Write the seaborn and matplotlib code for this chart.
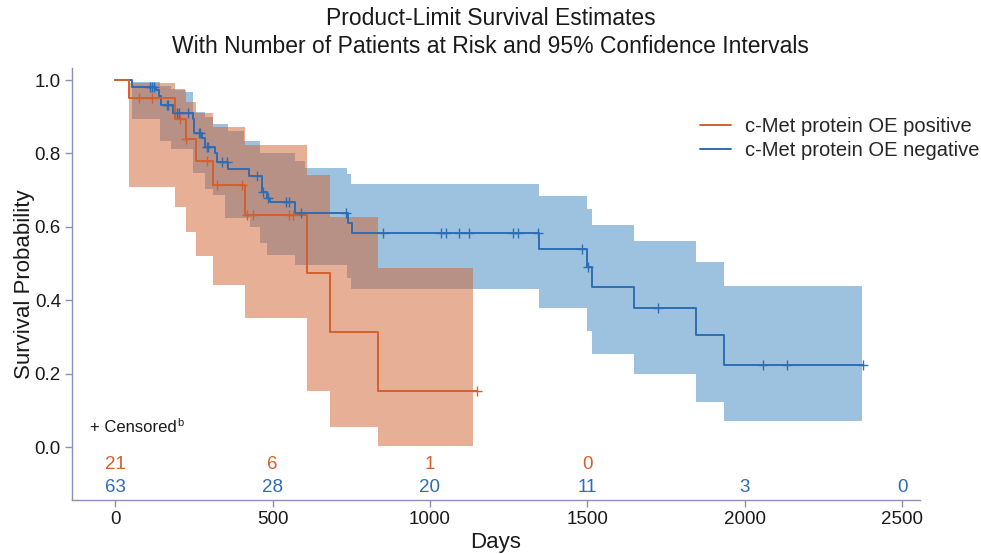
import numpy as np
import pandas as pd
import matplotlib
matplotlib.use("Agg")
import matplotlib.pyplot as plt
import seaborn as sns
from matplotlib.lines import Line2D

# ---------------- data ----------------
pos_label = "c-Met protein OE positive"
neg_label = "c-Met protein OE negative"

pos_event_days = [44, 191, 225, 256, 310, 413, 609, 683, 835]
pos_surv = [0.951, 0.895, 0.839, 0.779, 0.715, 0.631, 0.474, 0.314, 0.154]
pos_censor_days = [76, 118, 206, 226, 291, 324, 402, 418, 437, 553, 564, 1149]

neg_event_days = [55, 130, 138, 145, 185, 246, 250, 275, 286, 318, 324, 358, 424,
                  468, 484, 492, 572, 741, 752, 1348, 1500, 1516, 1647, 1846, 1935]
neg_surv = [0.980, 0.972, 0.958, 0.932, 0.911, 0.893, 0.857, 0.841, 0.817, 0.800,
            0.777, 0.757, 0.738, 0.696, 0.680, 0.668, 0.639, 0.611, 0.582, 0.540,
            0.490, 0.437, 0.378, 0.305, 0.223]
neg_censor_days = [111, 117, 124, 164, 169, 198, 204, 233, 265, 270, 291, 296, 341,
                   355, 452, 470, 487, 543, 552, 591, 734, 850, 1036, 1052, 1091,
                   1125, 1263, 1281, 1342, 1482, 1502, 1724, 2057, 2136, 2377]

# confidence bands: boundaries (days) and values on each interval
pos_band_days = [44, 191, 225, 256, 312, 413, 609, 683, 835, 1136]
pos_band_upper = [0.993, 0.973, 0.941, 0.911, 0.871, 0.823, 0.741, 0.628, 0.489]
pos_band_lower = [0.709, 0.653, 0.587, 0.520, 0.441, 0.351, 0.153, 0.055, 0.003]

neg_band_days = [55, 141, 178, 222, 247, 284, 312, 349, 358, 410, 429, 461, 482,
                 570, 604, 736, 750, 1348, 1498, 1516, 1647, 1846, 1935, 2372]
neg_band_upper = [0.995, 0.985, 0.975, 0.968, 0.914, 0.900, 0.880, 0.880, 0.860,
                  0.835, 0.835, 0.800, 0.800, 0.780, 0.761, 0.745, 0.718, 0.684,
                  0.650, 0.605, 0.561, 0.505, 0.440]
neg_band_lower = [0.893, 0.835, 0.811, 0.811, 0.746, 0.703, 0.687, 0.623, 0.623,
                  0.623, 0.600, 0.555, 0.522, 0.497, 0.497, 0.460, 0.430, 0.378,
                  0.316, 0.253, 0.199, 0.122, 0.072]

risk_days = [0, 500, 1000, 1500, 2000, 2500]
pos_at_risk = [21, 6, 1, 0]
neg_at_risk = [63, 28, 20, 11, 3, 0]

x_ticks = [0, 500, 1000, 1500, 2000, 2500]
y_ticks = [0.0, 0.2, 0.4, 0.6, 0.8, 1.0]

# ---------------- style ----------------
sns.set_style("white")
plt.rcParams['font.family'] = ['Liberation Sans', 'DejaVu Sans']

c_pos = "#D2612D"
c_neg = "#2E6DB4"
f_pos = "#D1612D"
f_neg = "#3D87C1"
spine_c = "#8E8EBB"
txt_c = "#1a1a1a"

fig = plt.figure(figsize=(9.81, 5.54), dpi=100)
ax = fig.add_axes([72 / 981, 54 / 554, (920 - 72) / 981, (500 - 68) / 554])


def step_series(ev_days, surv, last_day):
    t = [0] + list(ev_days) + [last_day]
    s = [1.0] + list(surv) + [surv[-1]]
    return pd.DataFrame({"day": t, "surv": s})


def band_arrays(days, upper, lower):
    x = list(days)
    up = list(upper) + [upper[-1]]
    lo = list(lower) + [lower[-1]]
    return np.array(x), np.array(up), np.array(lo)


def censor_y(ev_days, surv, cdays):
    ev = np.array(ev_days)
    s = np.array([1.0] + list(surv))
    idx = np.searchsorted(ev, np.array(cdays), side="right")
    return s[idx]

# bands: blue first, orange on top
bx, bu, bl = band_arrays(neg_band_days, neg_band_upper, neg_band_lower)
ax.fill_between(bx, bl, bu, step="post", color=f_neg, alpha=0.5, lw=0)
bx, bu, bl = band_arrays(pos_band_days, pos_band_upper, pos_band_lower)
ax.fill_between(bx, bl, bu, step="post", color=f_pos, alpha=0.5, lw=0)

neg_df = step_series(neg_event_days, neg_surv, neg_censor_days[-1])
pos_df = step_series(pos_event_days, pos_surv, pos_censor_days[-1])
sns.lineplot(data=neg_df, x="day", y="surv", drawstyle="steps-post", color=c_neg,
             lw=1.4, estimator=None, sort=False, ax=ax)
sns.lineplot(data=pos_df, x="day", y="surv", drawstyle="steps-post", color=c_pos,
             lw=1.4, estimator=None, sort=False, ax=ax)

ax.scatter(neg_censor_days, censor_y(neg_event_days, neg_surv, neg_censor_days),
           marker="+", s=60, color=c_neg, linewidths=1.0, zorder=5)
ax.scatter(pos_censor_days, censor_y(pos_event_days, pos_surv, pos_censor_days),
           marker="+", s=60, color=c_pos, linewidths=1.0, zorder=5)

# at-risk numbers
for d, n in zip(risk_days, pos_at_risk):
    ax.text(d, -0.049, str(n), color=c_pos, ha="center", va="center", fontsize=13.5)
for d, n in zip(risk_days, neg_at_risk):
    ax.text(d, -0.109, str(n), color=c_neg, ha="center", va="center", fontsize=13.5)

cens_txt = ax.text(-80, 0.054, "+ Censored", ha="left", va="center", fontsize=12,
                   color=txt_c)
ax.annotate("b", xy=(1.0, 0.45), xycoords=cens_txt, xytext=(0.5, 0),
            textcoords="offset points", ha="left", va="bottom", fontsize=8, color=txt_c)

ax.set_xlim(-137, 2557)
ax.set_ylim(-0.1444, 1.033)
ax.set_xticks(x_ticks)
ax.set_yticks(y_ticks)
ax.set_yticklabels([f"{v:.1f}" for v in y_ticks])
ax.tick_params(axis="both", direction="out", length=5, width=1, color=spine_c,
               labelsize=13.5, labelcolor=txt_c, pad=3, bottom=True, left=True)
for side in ["top", "right"]:
    ax.spines[side].set_visible(False)
for side in ["left", "bottom"]:
    ax.spines[side].set_color(spine_c)
    ax.spines[side].set_linewidth(1.0)

ax.set_xlabel("Days", fontsize=16, labelpad=3, color=txt_c)
ax.set_ylabel("Survival Probability", fontsize=16, labelpad=0, color=txt_c)

fig.suptitle("Product-Limit Survival Estimates\nWith Number of Patients at Risk and 95% Confidence Intervals",
             y=1 - 7 / 554, va="top", fontsize=16.5, linespacing=1.3, color=txt_c)

handles = [Line2D([0], [0], color=c_pos, lw=1.4), Line2D([0], [0], color=c_neg, lw=1.4)]
fig.legend(handles, [pos_label, neg_label], loc="upper left",
           bbox_to_anchor=(700 / 981, 1 - 117 / 554), frameon=False, fontsize=14.5,
           handlelength=1.55, handletextpad=0.7, labelspacing=0.25, borderpad=0,
           borderaxespad=0)

fig.savefig("out.png", dpi=100)
